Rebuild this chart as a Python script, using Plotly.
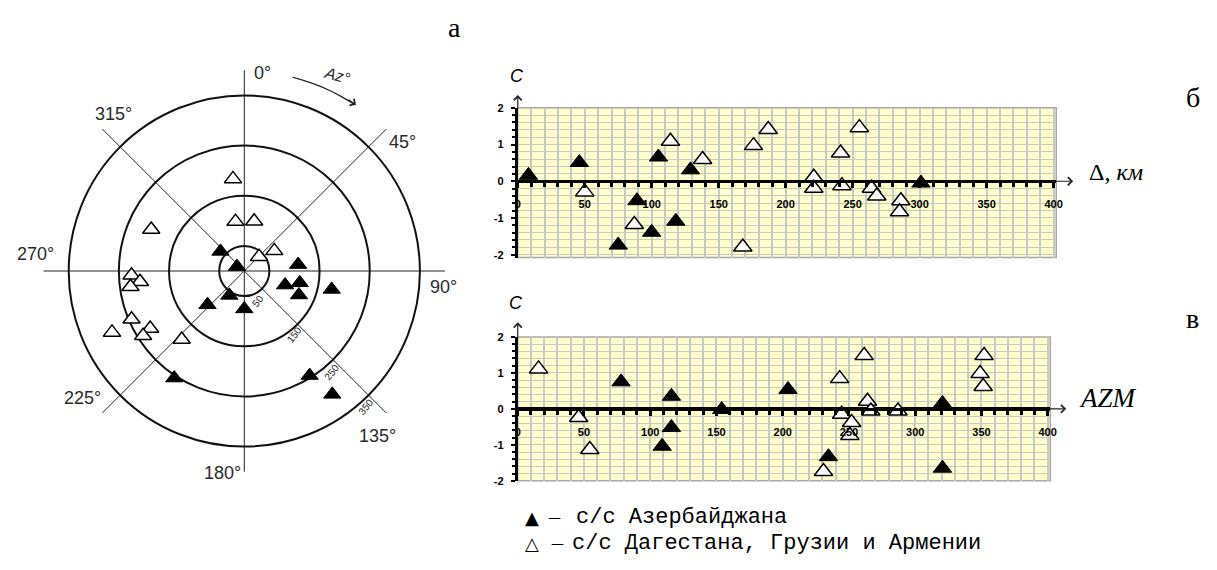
import plotly.graph_objects as go

W, H = 1217, 570

# ---------------- data ----------------
# panel а : polar diagram, distance (km) and azimuth (deg)
pol_black_r = [61.5, 17, 108, 113, 86, 119, 178, 57, 99.5, 75.5, 255, 245.7, 302]
pol_black_theta = [309.5, 301, 83.2, 102, 109, 113.7, 101.9, 211.5, 227.5, 180, 213.2, 148, 144.5]
pol_white_r = [185, 100, 101, 203, 41, 72, 225, 209, 229, 244.5, 290.7, 219.8, 239.4, 185]
pol_white_theta = [353, 349.9, 11.2, 294, 45.8, 56.1, 267.8, 264.1, 262.1, 246.8, 245.1, 238.6, 237.4, 222.4]

ring_km = [50, 150, 250, 350]
ring_labels = ["50", "150", "250", "350"]
spoke_deg = [0, 45, 90, 135, 180, 225, 270, 315]
spoke_labels = ["0°", "45°", "90°", "135°", "180°", "225°", "270°", "315°"]
arc_theta = [14, 17, 20, 23, 26, 29, 32, 33.5]
arc_r = [398, 398, 398, 398, 398, 398, 398, 398]

# panel б : C vs epicentral distance (km)
dist_black = [8, 46, 105, 129, 89, 75, 100, 118, 301]
c_dist_black = [0.16, 0.51, 0.66, 0.31, -0.53, -1.74, -1.39, -1.09, -0.05]
dist_white = [50, 114, 138, 87, 168, 176, 187, 221, 221, 241, 242, 255, 264, 268, 286, 285]
c_dist_white = [-0.29, 1.09, 0.59, -1.18, -1.79, 0.97, 1.41, 0.11, -0.19, 0.77, -0.12, 1.46, -0.19, -0.40, -0.53, -0.83]

# panel в : C vs azimuth
azm_black = [78, 116, 116, 109, 154, 204, 234.5, 320.6, 320.6]
c_azm_black = [0.75, 0.35, -0.52, -1.04, -0.02, 0.54, -1.33, 0.15, -1.65]
azm_white = [15.7, 46, 54.4, 230.8, 243, 244.5, 252, 250.7, 261.5, 264, 266.5, 287, 352, 349, 351.3]
c_azm_white = [1.11, -0.24, -1.13, -1.74, 0.84, -0.15, -0.38, -0.74, 1.48, 0.21, -0.06, -0.06, 1.48, 0.98, 0.62]

x_ticks = [0, 50, 100, 150, 200, 250, 300, 350, 400]
y_ticks = [-2, -1, 0, 1, 2]

name_black = "с/с Азербайджана"
name_white = "с/с Дагестана, Грузии и Армении"


def fx(p):
    return p / W


def fy(p):
    return 1 - p / H


BLACK_P = dict(symbol="triangle-up", size=15, color="black", line=dict(color="black", width=1))
WHITE_P = dict(symbol="triangle-up", size=15, color="white", line=dict(color="black", width=1.5))
BLACK = dict(symbol="triangle-up", size=16, color="black", line=dict(color="black", width=1))
WHITE = dict(symbol="triangle-up", size=16, color="white", line=dict(color="black", width=1.5))
GRID = "#C8C8C8"
YELLOW = "#FFFFCC"

fig = go.Figure()

# ---- polar ----
fig.add_trace(go.Scatterpolar(r=arc_r, theta=arc_theta, mode="lines",
                              line=dict(color="#222", width=1.3), hoverinfo="skip", showlegend=False))
fig.add_trace(go.Scatterpolar(r=pol_black_r, theta=pol_black_theta, mode="markers", marker=BLACK_P,
                              name=name_black, showlegend=False))
fig.add_trace(go.Scatterpolar(r=pol_white_r, theta=pol_white_theta, mode="markers", marker=WHITE_P,
                              name=name_white, showlegend=False))

# ---- panel б ----
fig.add_trace(go.Scatter(x=dist_black, y=c_dist_black, mode="markers", marker=BLACK, name=name_black,
                         xaxis="x", yaxis="y", cliponaxis=False, showlegend=False))
fig.add_trace(go.Scatter(x=dist_white, y=c_dist_white, mode="markers", marker=WHITE, name=name_white,
                         xaxis="x", yaxis="y", cliponaxis=False, showlegend=False))
# ---- panel в ----
fig.add_trace(go.Scatter(x=azm_black, y=c_azm_black, mode="markers", marker=BLACK, name=name_black,
                         xaxis="x2", yaxis="y2", cliponaxis=False, showlegend=False))
fig.add_trace(go.Scatter(x=azm_white, y=c_azm_white, mode="markers", marker=WHITE, name=name_white,
                         xaxis="x2", yaxis="y2", cliponaxis=False, showlegend=False))

tickfont = dict(family="Liberation Sans", size=11, color="black", weight="bold")


def zero_pos(rng, dom):
    return dom[0] + (0 - rng[0]) / (rng[1] - rng[0]) * (dom[1] - dom[0])


def xcfg(dom, rng, ydom, yrng):
    return dict(domain=dom, range=rng, anchor="free", position=zero_pos(yrng, ydom),
                tickvals=x_ticks, ticktext=[str(v) for v in x_ticks],
                ticks="outside", ticklen=5, tickwidth=2.5, tickcolor="black",
                showline=True, linecolor="black", linewidth=3,
                showgrid=False, zeroline=False, tickfont=tickfont, ticklabelstandoff=7,
                minor=dict(tick0=0, dtick=10, ticks="outside", ticklen=4, tickwidth=2.5,
                           tickcolor="black", showgrid=True, gridcolor=GRID, gridwidth=1.5),
                fixedrange=True)


def ycfg(dom, rng, anchor):
    return dict(domain=dom, range=rng, anchor=anchor,
                tickvals=y_ticks, ticktext=[str(v) for v in y_ticks],
                ticks="outside", ticklen=4, tickwidth=2, tickcolor="black",
                showline=True, linecolor="black", linewidth=3,
                zeroline=True, zerolinecolor="black", zerolinewidth=3,
                showgrid=False, tickfont=tickfont, ticklabelstandoff=5,
                minor=dict(tick0=0, dtick=0.2, ticks="outside", ticklen=3, tickwidth=2,
                           tickcolor="black", showgrid=True, gridcolor=GRID, gridwidth=1.4),
                fixedrange=True)


x1dom = [fx(519), fx(1062)]
y1dom = [fy(257), fy(104)]
y1rng = [-2.08, 2.0]
x2dom = [fx(519), fx(1056)]
y2dom = [fy(485), fy(338)]
y2rng = [-2.0, 2.0]
xrng = [0, 402]

annotations = []


def txt(x, y, s, size, family="Liberation Sans", color="black", angle=0, xanchor="center"):
    annotations.append(dict(x=fx(x), y=fy(y), xref="paper", yref="paper", text=s, showarrow=False,
                            textangle=angle, xanchor=xanchor, yanchor="middle",
                            font=dict(family=family, size=size, color=color)))


def arrow(x, y, xref, yref, ax, ay):
    annotations.append(dict(x=x, y=y, xref=xref, yref=yref, ax=ax, ay=ay, text="", showarrow=True,
                            arrowhead=4, arrowsize=1.3, arrowwidth=1.2, arrowcolor="#222", standoff=0))


# polar angle labels
label_pos = [(261.5, 68), (402.5, 139), (444, 287.5), (377.5, 439),
             (221, 477), (80, 400), (33, 253), (111, 110)]
for (px, py), s in zip(label_pos, spoke_labels):
    txt(px, py, s, 18, color="#2a2a2a")
ring_pos = [(257.5, 301), (294, 336), (331, 374), (366, 409)]
for (px, py), s in zip(ring_pos, ring_labels):
    txt(px, py, s, 10, color="#222", angle=-52)
txt(337, 71, "<i>Az°</i>", 16, color="#2a2a2a", angle=16)
arrow(fx(356), fy(101), "paper", "paper", -9, -6)

# panel letters
txt(455, 22, "а", 28, family="Liberation Serif")
txt(1200, 93, "б", 28, family="Liberation Serif")
txt(1199, 319, "в", 28, family="Liberation Serif")

# axis titles
txt(518, 72, "<i>C</i>", 18)
txt(517, 303, "<i>C</i>", 18)
txt(1093, 170, "Δ<i>, км</i>", 24, family="Liberation Serif", xanchor="left")
txt(1083, 400, "<i>AZM</i>", 27, family="Liberation Serif", xanchor="left")

# axis arrows
arrow(1 + 17 / 543, 0, "x domain", "y", -19, 0)
arrow(0, 1 + 13 / 153, "x domain", "y domain", 0, 15)
arrow(1 + 16 / 537, 0, "x2 domain", "y2", -18, 0)
arrow(0, 1 + 15 / 147, "x2 domain", "y2 domain", 0, 17)

# legend (text)
txt(533, 522, "▲", 18, family="DejaVu Sans")
txt(556, 522, "—", 13, family="DejaVu Sans")
txt(576, 522, name_black, 22, family="Liberation Mono", xanchor="left")
txt(533, 549, "△", 18, family="DejaVu Sans")
txt(559, 549, "—", 13, family="DejaVu Sans")
txt(572, 549, name_white, 22, family="Liberation Mono", xanchor="left")

shapes = [
    dict(type="rect", xref="x domain", yref="y domain", x0=0, x1=1, y0=0, y1=1,
         line=dict(color="#A8A8A8", width=1.5), layer="below"),
    dict(type="rect", xref="x2 domain", yref="y2 domain", x0=0, x1=1, y0=0, y1=1,
         line=dict(color="#A8A8A8", width=1.5), layer="below"),
]

fig.update_layout(
    width=W, height=H, margin=dict(l=0, r=0, t=0, b=0),
    paper_bgcolor="white", plot_bgcolor=YELLOW, showlegend=False,
    polar=dict(
        domain=dict(x=[fx(243.3 - 205), fx(243.3 + 205)], y=[fy(270.7 + 205), fy(270.7 - 205)]),
        bgcolor="white",
        angularaxis=dict(rotation=90, direction="clockwise", tickvals=spoke_deg, showticklabels=False,
                         ticks="", showline=False, showgrid=True, gridcolor="#222", gridwidth=1),
        radialaxis=dict(range=[0, 400], tickvals=ring_km, showticklabels=False, ticks="",
                        showline=False, showgrid=True, gridcolor="#111", gridwidth=1.5),
    ),
    xaxis=xcfg(x1dom, xrng, y1dom, y1rng),
    yaxis=ycfg(y1dom, y1rng, "x"),
    xaxis2=xcfg(x2dom, xrng, y2dom, y2rng),
    yaxis2=ycfg(y2dom, y2rng, "x2"),
    annotations=annotations,
    shapes=shapes,
)

fig.write_html("out.html", config={"displayModeBar": False},
               post_script="document.body.style.margin='0';document.body.style.overflow='hidden';")
